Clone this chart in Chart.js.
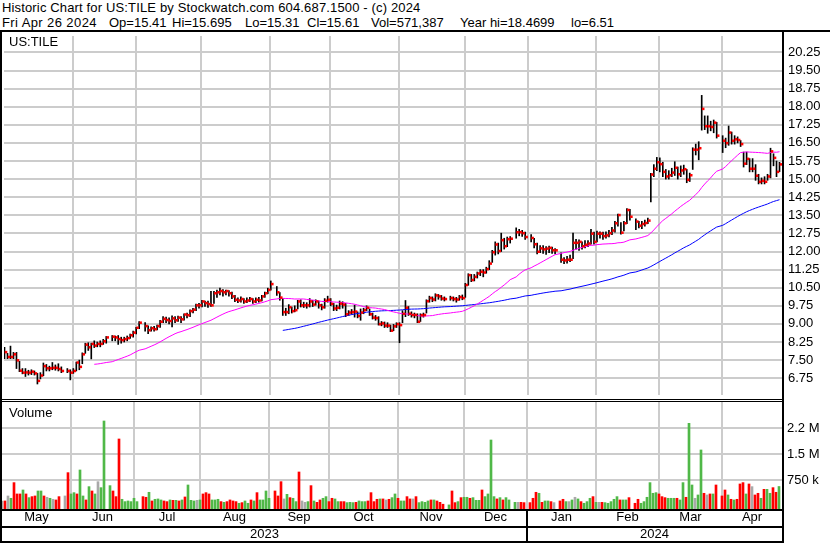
<!DOCTYPE html>
<html>
<head>
<meta charset="utf-8">
<title>US:TILE historic chart</title>
<script src="https://cdn.jsdelivr.net/npm/chart.js@4.4.1/dist/chart.umd.min.js"></script>
<style>
  html, body { margin: 0; padding: 0; background: #fff; }
  #wrap { position: relative; width: 830px; height: 543px; overflow: hidden; background: #fff;
          font-family: "Liberation Sans", Arial, sans-serif; color: #000; }
  .abs { position: absolute; }
  .txt { font-size: 13px; line-height: 15px; white-space: pre; }
  .hdr1 { letter-spacing: 0.15px; }
  .rule { position: absolute; background: #000; }
  canvas { position: absolute; left: 0; }
</style>
</head>
<body>
<div id="wrap">
  <div class="abs txt hdr1" style="left:2px;top:0">Historic Chart for US:TILE by Stockwatch.com 604.687.1500 - (c) 2024</div>
  <div class="abs txt" style="left:2px;top:15px;letter-spacing:0.4px">Fri Apr 26 2024</div>
  <div class="abs txt" style="left:109px;top:15px">Op=15.41</div>
  <div class="abs txt" style="left:172px;top:15px">Hi=15.695</div>
  <div class="abs txt" style="left:245px;top:15px">Lo=15.31</div>
  <div class="abs txt" style="left:307px;top:15px">Cl=15.61</div>
  <div class="abs txt" style="left:371px;top:15px">Vol=571,387</div>
  <div class="abs txt" style="left:460px;top:15px">Year hi=18.4699</div>
  <div class="abs txt" style="left:571px;top:15px">lo=6.51</div>

  <canvas id="priceCanvas" width="830" height="367" style="top:32px;width:830px;height:367px"></canvas>
  <canvas id="volumeCanvas" width="830" height="141" style="top:402px;width:830px;height:141px"></canvas>

  <div class="abs txt" style="left:9px;top:34px">US:TILE</div>
  <div class="abs txt" style="left:9px;top:405px">Volume</div>

  <div class="rule" style="left:0;top:30px;width:830px;height:2px"></div>
  <div class="rule" style="left:0;top:30px;width:2px;height:513px"></div>
  <div class="rule" style="left:782px;top:30px;width:2px;height:513px"></div>
  <div class="rule" style="left:0;top:399px;width:784px;height:1px"></div>
  <div class="rule" style="left:0;top:401px;width:784px;height:1px"></div>
</div>

<script>
// ---- Daily sessions: one slot per weekday from Mon 1 May 2023 to Fri 26 Apr 2024.
// ---- Market holidays are null.
const FIRST_SESSION = '2023-05-01';
const SLOT_COUNT = 260;

const high = [
  // May 2023
  8.03,7.78,8.08,7.82,7.82,7.45,7.15,7.15,7.08,7.10,7.05,6.95,6.98,7.38,7.32,7.25,7.40,7.30,7.35,7.22,null,7.15,7.10,
  // Jun
  7.15,7.42,7.50,7.80,8.20,8.22,8.20,8.30,8.25,8.30,8.36,8.48,null,8.52,8.50,8.52,8.45,8.45,8.50,8.58,8.70,8.86,
  // Jul
  9.10,null,9.05,8.92,8.88,8.90,8.95,9.15,9.30,9.28,9.25,9.33,9.30,9.32,9.30,9.42,9.45,9.58,9.65,9.82,9.85,
  // Aug
  9.98,9.95,9.95,10.35,10.35,10.40,10.48,10.42,10.40,10.38,10.32,10.18,10.08,10.12,10.05,10.08,10.10,10.05,10.08,10.10,10.18,10.32,10.48,
  // Sep
  10.78,null,10.55,10.30,10.05,9.65,9.80,9.70,9.75,9.98,10.00,9.90,9.88,10.05,9.98,10.00,9.95,9.82,10.05,10.15,10.05,
  // Oct
  9.85,9.78,9.95,9.92,9.85,9.55,9.60,9.78,9.50,9.62,9.65,9.75,9.62,9.45,9.35,9.30,9.10,9.08,9.05,8.95,8.98,9.05,
  // Nov
  9.05,9.55,9.97,9.72,9.50,9.45,9.42,9.42,9.45,10.00,10.15,10.12,10.25,10.22,10.18,10.12,null,10.15,10.12,10.10,10.18,10.20,
  // Dec
  10.68,11.08,11.05,11.05,11.15,11.25,11.25,11.35,11.62,12.05,12.40,12.35,12.76,12.55,12.60,12.62,null,12.98,12.92,12.88,12.80,
  // Jan 2024
  null,12.70,12.55,12.35,12.25,12.25,12.20,12.22,12.18,12.12,null,11.95,11.75,11.80,11.85,12.76,12.50,12.48,12.40,12.45,12.45,12.92,12.80,
  // Feb
  12.85,12.82,12.80,12.82,12.88,13.00,13.25,13.55,13.20,13.25,13.78,13.75,null,13.35,13.25,13.25,13.30,13.38,15.24,15.60,15.90,
  // Mar
  15.88,15.70,15.40,15.35,15.45,15.72,15.50,15.55,15.58,15.40,15.25,16.30,16.45,16.55,18.4699,17.62,17.62,17.40,17.45,17.35,null,
  // Apr
  16.80,16.70,17.20,16.95,16.80,16.75,16.60,16.12,16.12,15.85,15.85,15.60,15.20,15.05,15.10,15.20,16.28,16.05,15.75,15.695
];

const low = [
  7.56,7.56,7.56,7.56,7.15,7.02,6.93,6.82,6.88,6.90,6.88,6.51,6.72,6.85,7.05,7.05,7.10,7.08,7.05,6.98,null,6.98,6.68,
  6.95,7.05,7.10,7.35,7.78,7.90,7.55,8.02,8.05,8.05,8.15,8.20,null,8.30,8.30,8.15,8.20,8.25,8.30,8.40,8.45,8.58,
  8.80,null,8.70,8.60,8.70,8.70,8.75,8.85,9.05,9.05,9.00,8.88,9.05,9.10,9.05,9.15,9.25,9.30,9.45,9.55,9.65,
  9.70,9.72,9.68,9.72,9.85,10.10,10.20,10.15,10.20,10.15,10.05,9.92,9.88,9.90,9.85,9.88,9.92,9.85,9.88,9.90,9.95,10.10,10.25,
  10.40,null,10.18,9.98,9.35,9.35,9.42,9.45,9.50,9.62,9.70,9.68,9.65,9.70,9.72,9.78,9.65,9.58,9.65,9.90,9.75,
  9.55,9.55,9.62,9.65,9.30,9.35,9.40,9.28,9.25,9.15,9.42,9.55,9.35,9.20,9.15,8.95,8.92,8.85,8.85,8.68,8.72,8.85,
  8.22,9.05,9.30,9.35,9.28,9.25,9.05,9.10,9.28,9.45,9.90,9.92,9.95,10.02,9.98,9.95,null,9.98,9.95,9.90,9.98,10.00,
  10.10,10.60,10.75,10.78,10.90,11.00,10.95,11.10,11.25,11.55,11.85,11.90,12.00,12.10,12.20,12.35,null,12.55,12.65,12.62,12.50,
  null,12.40,12.15,11.90,11.95,11.92,11.88,11.95,11.92,11.90,null,11.55,11.50,11.52,11.58,11.70,12.10,12.05,12.10,12.15,12.20,12.30,12.30,
  12.40,12.55,12.50,12.55,12.60,12.70,12.80,13.05,12.72,12.85,13.15,13.30,null,12.90,12.98,12.95,13.05,13.15,14.05,15.10,15.35,
  15.30,15.10,15.00,15.00,15.10,15.15,15.00,15.10,15.20,14.85,14.90,15.40,16.00,15.80,17.03,17.05,16.90,17.00,16.92,16.70,null,
  16.10,16.30,16.40,16.45,16.45,16.50,16.35,15.50,15.60,15.30,15.30,14.95,14.80,14.80,14.80,14.95,15.05,15.55,15.10,15.31
];

const close = [
  7.83,7.63,7.63,7.74,7.49,7.06,6.98,6.99,6.98,7.02,6.95,6.64,6.86,7.25,7.16,7.16,7.18,7.18,7.13,7.05,null,7.05,6.98,
  7.05,7.40,7.22,7.74,8.14,8.03,8.17,8.10,8.17,8.17,8.28,8.44,null,8.47,8.44,8.37,8.33,8.37,8.41,8.53,8.64,8.84,
  9.05,null,8.91,8.74,8.82,8.78,8.91,9.09,9.21,9.16,9.12,9.23,9.15,9.26,9.19,9.39,9.36,9.53,9.59,9.77,9.77,
  9.93,9.86,9.82,9.77,10.27,10.31,10.36,10.31,10.36,10.27,10.14,10.00,9.97,10.03,9.93,9.97,10.03,9.93,10.00,9.97,10.14,10.27,10.41,
  10.65,null,10.31,10.09,9.49,9.49,9.69,9.53,9.57,9.93,9.77,9.77,9.77,9.93,9.80,9.93,9.77,9.69,9.96,10.00,9.83,
  9.64,9.67,9.84,9.80,9.40,9.47,9.49,9.51,9.33,9.47,9.57,9.67,9.40,9.26,9.24,8.99,9.02,8.93,8.93,8.72,8.90,8.99,
  8.95,9.42,9.67,9.42,9.37,9.37,9.09,9.36,9.37,9.94,10.07,10.01,10.18,10.14,10.05,10.03,null,10.07,10.03,10.01,10.11,10.07,
  10.61,11.02,10.82,10.95,11.09,11.16,11.13,11.27,11.50,11.97,12.29,12.02,12.47,12.22,12.51,12.53,null,12.80,12.80,12.76,12.60,
  null,12.56,12.30,11.99,12.13,12.09,12.12,12.15,12.05,12.05,null,11.66,11.63,11.66,11.66,12.36,12.36,12.40,12.22,12.28,12.33,12.74,12.40,
  12.74,12.74,12.64,12.67,12.76,12.87,13.17,13.51,12.78,13.17,13.72,13.44,null,13.24,13.07,13.14,13.18,13.28,15.19,15.43,15.70,
  15.62,15.30,15.11,15.16,15.27,15.47,15.20,15.36,15.41,14.97,15.16,16.22,16.22,16.28,17.91,17.19,17.19,17.16,17.34,16.80,null,
  16.59,16.49,16.93,16.59,16.65,16.62,16.45,15.64,15.84,15.43,15.43,15.14,14.89,14.93,14.89,15.11,16.15,15.88,15.30,15.61
];

const volume = [
  154000,154000,298000,231000,683000,356000,356000,471000,356000,250000,279000,298000,442000,442000,298000,260000,231000,202000,183000,279000,null,298000,971000,
  356000,394000,356000,1048000,298000,183000,567000,442000,356000,711000,538000,2461000,null,596000,442000,279000,1942000,202000,135000,154000,135000,231000,
  135000,null,279000,260000,404000,154000,202000,212000,183000,154000,135000,183000,173000,173000,154000,183000,269000,615000,173000,154000,173000,
  183000,356000,394000,356000,183000,183000,202000,135000,115000,135000,183000,154000,135000,87000,106000,154000,87000,183000,154000,394000,183000,183000,442000,
  231000,null,442000,298000,711000,212000,346000,250000,231000,135000,990000,154000,115000,135000,596000,154000,115000,183000,231000,279000,135000,
  231000,212000,135000,135000,135000,106000,115000,106000,115000,154000,135000,135000,154000,394000,135000,202000,212000,212000,183000,202000,250000,356000,
  231000,154000,154000,279000,212000,212000,279000,106000,135000,115000,154000,183000,183000,154000,115000,60000,null,40000,442000,106000,135000,250000,
  260000,260000,231000,250000,173000,173000,471000,279000,356000,1913000,279000,212000,250000,183000,250000,183000,null,115000,115000,115000,106000,
  null,106000,231000,404000,375000,115000,154000,154000,135000,106000,null,154000,202000,135000,135000,183000,260000,212000,135000,87000,135000,231000,279000,
  115000,115000,115000,106000,87000,135000,202000,279000,183000,183000,183000,250000,null,87000,202000,87000,135000,260000,683000,375000,394000,
  356000,279000,250000,231000,231000,231000,231000,183000,683000,260000,2394000,615000,231000,327000,1625000,375000,327000,356000,356000,615000,null,
  298000,471000,327000,202000,183000,202000,644000,683000,356000,644000,567000,327000,375000,231000,490000,490000,375000,538000,404000,571387
];

const priceTicks = [6.75, 7.5, 8.25, 9, 9.75, 10.5, 11.25, 12, 12.75, 13.5, 14.25, 15, 15.75, 16.5, 17.25, 18, 18.75, 19.5, 20.25];
const volumeTicks = [750000, 1500000, 2250000];
const volumeTickLabels = ['750 k', '1.5 M', '2.2 M'];
const MONTH_NAMES = ['Jan','Feb','Mar','Apr','May','Jun','Jul','Aug','Sep','Oct','Nov','Dec'];
const FAST_PERIOD = 30;
const SLOW_PERIOD = 90;

// ---- Scale ranges -----------------------------------------------------------
const PRICE_MIN = 6.054, PRICE_MAX = 20.93;
const VOLUME_MIN = -78000, VOLUME_MAX = 3009000;

// ---- Calendar helpers -------------------------------------------------------
function buildSlotDates() {
  const d = new Date(FIRST_SESSION + 'T00:00:00Z');
  const out = [];
  while (out.length < SLOT_COUNT) {
    const wd = d.getUTCDay();
    if (wd !== 0 && wd !== 6) out.push(new Date(d));
    d.setUTCDate(d.getUTCDate() + 1);
  }
  return out;
}
const slotDates = buildSlotDates();

// Month divisions sit on the 1st of the month (a weekend 1st falls back to Friday).
const monthEdges = [];
const yearEdges = [];
for (let i = 1; i < SLOT_COUNT; i++) {
  const a = slotDates[i - 1], b = slotDates[i];
  if (a.getUTCMonth() !== b.getUTCMonth()) {
    const edge = b.getUTCDate() === 1 ? i : i - 1;
    monthEdges.push(edge);
    if (a.getUTCFullYear() !== b.getUTCFullYear()) yearEdges.push(edge);
  }
}
const monthSpans = [];
{
  const bounds = [0, ...monthEdges, SLOT_COUNT];
  for (let k = 0; k < bounds.length - 1; k++) {
    const mid = Math.min(SLOT_COUNT - 1, Math.ceil((bounds[k] + bounds[k + 1]) / 2));
    monthSpans.push({ from: bounds[k], to: bounds[k + 1], label: MONTH_NAMES[slotDates[mid].getUTCMonth()] });
  }
}
const yearSpans = [];
{
  const bounds = [0, ...yearEdges, SLOT_COUNT];
  for (let k = 0; k < bounds.length - 1; k++) {
    yearSpans.push({ from: bounds[k], to: bounds[k + 1], label: String(slotDates[bounds[k]].getUTCFullYear()) });
  }
}

// ---- Series for the library ------------------------------------------------
const BAR_SHIFT = 1 / 6;    // high-low stroke within the 3px slot
const CLOSE_SHIFT = 2 / 3;  // close tick sits right of the stroke

const rangePoints = [], closePoints = [], volumePoints = [], volumeColors = [];
let prevClose = null;
for (let i = 0; i < SLOT_COUNT; i++) {
  if (close[i] == null) continue;
  rangePoints.push({ x: i + BAR_SHIFT, y: [low[i], high[i]] });
  closePoints.push({ x: i + CLOSE_SHIFT, y: close[i] });
  volumePoints.push({ x: i, y: [VOLUME_MIN, volume[i]] });
  volumeColors.push(prevClose == null || close[i] === prevClose ? '#a9a9a9' : (close[i] > prevClose ? '#50b848' : '#ff0000'));
  prevClose = close[i];
}

function movingAverage(period) {
  const out = [], win = [];
  for (let i = 0; i < SLOT_COUNT; i++) {
    if (close[i] == null) continue;
    win.push(close[i]);
    if (win.length > period) win.shift();
    if (win.length === period) out.push({ x: i + BAR_SHIFT, y: win.reduce((s, v) => s + v, 0) / period });
  }
  return out;
}

const FONT = { family: '"Liberation Sans", Arial, sans-serif', size: 13 };
const GRID = { color: '#cccccc', lineWidth: 2, drawTicks: false, offset: false };

function fixedWidth(w) {
  return function (s) { s.width = w; s.paddingTop = 0; s.paddingBottom = 0; s.paddingLeft = 0; s.paddingRight = 0; };
}
function fixedHeight(h) {
  return function (s) { s.height = h; s.paddingTop = 0; s.paddingBottom = 0; s.paddingLeft = 0; s.paddingRight = 0; };
}
function monthGridAxis() {
  return {
    type: 'linear', min: 0, max: SLOT_COUNT, offset: false, position: 'bottom',
    afterBuildTicks: s => { s.ticks = monthEdges.map(v => ({ value: v })); },
    afterFit: fixedHeight(0),
    ticks: { display: false },
    grid: GRID,
    border: { display: false }
  };
}

const common = {
  responsive: false,
  animation: false,
  devicePixelRatio: 1,
  events: [],
  layout: { padding: { left: 2, right: 0, top: 0, bottom: 0 } },
  plugins: { legend: { display: false }, tooltip: { enabled: false } }
};

Chart.defaults.font.family = FONT.family;
Chart.defaults.color = '#000';

// ---- Price panel ------------------------------------------------------------
new Chart(document.getElementById('priceCanvas'), {
  type: 'bar',
  data: {
    datasets: [
      { type: 'line', label: 'Close', data: closePoints, showLine: false,
        pointStyle: 'rect', pointRadius: 1.8, pointBorderWidth: 0,
        pointBackgroundColor: '#ff0000', order: 0 },
      { type: 'line', label: FAST_PERIOD + '-day average', data: movingAverage(FAST_PERIOD),
        borderColor: '#ff00ff', borderWidth: 1, pointRadius: 0, tension: 0, spanGaps: true, order: 1 },
      { type: 'line', label: SLOW_PERIOD + '-day average', data: movingAverage(SLOW_PERIOD),
        borderColor: '#0000ff', borderWidth: 1, pointRadius: 0, tension: 0, spanGaps: true, order: 2 },
      { type: 'bar', label: 'High-Low', data: rangePoints, backgroundColor: '#000000',
        borderWidth: 0, barThickness: 1, grouped: false, order: 3 }
    ]
  },
  options: Object.assign({}, common, {
    scales: {
      x: monthGridAxis(),
      y: {
        type: 'linear', position: 'right', min: PRICE_MIN, max: PRICE_MAX,
        afterBuildTicks: s => { s.ticks = priceTicks.map(v => ({ value: v })); },
        afterFit: fixedWidth(48),
        ticks: { padding: 6, font: FONT, color: '#000', callback: v => Number(v).toFixed(2) },
        grid: GRID,
        border: { display: false }
      }
    }
  })
});

// ---- Volume panel with month / year captions -------------------------------
const bottomFrame = {
  id: 'bottomFrame',
  afterDraw(chart) {
    const { ctx, chartArea } = chart;
    const xs = chart.scales.x;
    const right = chartArea.right + 2;
    ctx.save();
    ctx.fillStyle = '#000';
    ctx.fillRect(0, chartArea.bottom, right, 2);
    ctx.fillRect(0, chartArea.bottom + 17, right, 2);
    ctx.fillRect(0, chart.height - 2, right, 2);
    yearEdges.forEach(v => {
      const px = Math.round(xs.getPixelForValue(v));
      ctx.fillRect(px - 1, chartArea.bottom, 2, chart.height - chartArea.bottom);
    });
    ctx.font = '13px ' + FONT.family;
    ctx.textAlign = 'center';
    ctx.textBaseline = 'alphabetic';
    yearSpans.forEach(s => {
      const cx = (xs.getPixelForValue(s.from) + xs.getPixelForValue(s.to)) / 2;
      ctx.fillText(s.label, cx, chart.height - 5.3);
    });
    ctx.restore();
  }
};

new Chart(document.getElementById('volumeCanvas'), {
  type: 'bar',
  data: {
    datasets: [
      { label: 'Volume', data: volumePoints, backgroundColor: volumeColors,
        borderWidth: 0, barThickness: 2, grouped: false, xAxisID: 'x', yAxisID: 'y' }
    ]
  },
  options: Object.assign({}, common, {
    scales: {
      x: monthGridAxis(),
      months: {
        type: 'linear', min: 0, max: SLOT_COUNT, offset: false, position: 'bottom',
        afterBuildTicks: s => { s.ticks = monthSpans.map(m => ({ value: (m.from + m.to) / 2 })); },
        afterFit: fixedHeight(34),
        ticks: { padding: 1, font: FONT, color: '#000', maxRotation: 0, autoSkip: false,
                 callback: (v, i) => monthSpans[i].label },
        grid: { display: false, drawTicks: false },
        border: { display: false }
      },
      y: {
        type: 'linear', position: 'right', min: VOLUME_MIN, max: VOLUME_MAX,
        afterBuildTicks: s => { s.ticks = volumeTicks.map(v => ({ value: v })); },
        afterFit: fixedWidth(48),
        ticks: { padding: 5, font: FONT, color: '#000', callback: (v, i) => volumeTickLabels[i] },
        grid: GRID,
        border: { display: false }
      }
    }
  }),
  plugins: [bottomFrame]
});
</script>
</body>
</html>
